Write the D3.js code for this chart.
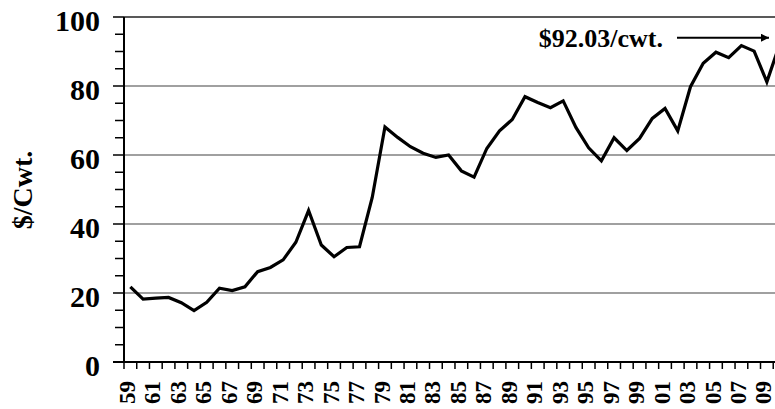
<!DOCTYPE html>
<html lang="en">
<head>
    <meta charset="UTF-8">
    <title>$/Cwt. by year</title>
    <script src="https://d3js.org/d3.v7.min.js"></script>
    <style>
        body { margin: 0; background: #fff; }
        svg { display: block; }
        text {
            font-family: "Liberation Serif", "Times New Roman", serif;
            font-weight: bold;
            fill: #000;
        }
        .grid { stroke: #808080; stroke-width: 1.5px; }
        .axis-line { stroke: #000; stroke-width: 2px; }
        .tick-mark { stroke: #000; stroke-width: 1.5px; }
        .price { fill: none; stroke: #000; stroke-width: 3.2px; stroke-linejoin: miter; }
    </style>
</head>
<body>
    <script>
        // Data (1959-2010)
        const years = d3.range(1959, 2011);
        const prices = [
            21.8, 18.2, 18.5, 18.7, 17.2, 14.9, 17.3, 21.4, 20.7, 21.8,
            26.2, 27.4, 29.6, 34.7, 43.9, 33.9, 30.5, 33.2, 33.4, 47.7,
            68.1, 65.1, 62.4, 60.5, 59.3, 60.0, 55.4, 53.6, 61.9, 67.0,
            70.3, 76.9, 75.2, 73.7, 75.7, 68.0, 62.1, 58.3, 65.0, 61.3,
            64.8, 70.6, 73.5, 67.0, 79.8, 86.6, 89.8, 88.2, 91.7, 90.1,
            81.2, 92.03
        ];
        const yTicks = [0, 20, 40, 60, 80, 100];
        const yMinorTicks = d3.range(0, 101, 5);
        const xLabelYears = years.filter(y => y % 2 === 1);
        const yTitle = "$/Cwt.";
        const note = "$92.03/cwt.";

        const width = 775;
        const height = 409;
        const plotLeft = 124, plotTop = 17, plotBottom = 362;
        const band = 12.73;

        const svg = d3.select("body")
            .append("svg")
            .attr("width", width)
            .attr("height", height);

        // chart runs a bit past the right edge of the picture, as in the original
        const x = d3.scaleBand()
            .domain(years)
            .range([plotLeft, plotLeft + band * years.length])
            .padding(0);

        const y = d3.scaleLinear()
            .domain([0, 100])
            .range([plotBottom, plotTop]);

        const xRight = x.range()[1];

        // horizontal gridlines
        svg.append("g")
            .selectAll("line")
            .data(yTicks.filter(d => d > 0))
            .enter()
            .append("line")
            .attr("class", "grid")
            .attr("x1", plotLeft)
            .attr("x2", xRight)
            .attr("y1", d => y(d))
            .attr("y2", d => y(d))
            .style("stroke", d => d === 100 ? "#222" : null);

        // y axis ticks (outward) and labels
        svg.append("g")
            .selectAll("line")
            .data(yMinorTicks)
            .enter()
            .append("line")
            .attr("class", "tick-mark")
            .attr("x1", d => d % 20 === 0 ? plotLeft - 11 : plotLeft - 9)
            .attr("x2", plotLeft)
            .attr("y1", d => y(d))
            .attr("y2", d => y(d));

        svg.append("g")
            .selectAll("text")
            .data(yTicks)
            .enter()
            .append("text")
            .attr("x", 100)
            .attr("y", d => y(d))
            .attr("dy", "0.45em")
            .attr("text-anchor", "end")
            .style("font-size", "30px")
            .text(d => d);

        // x axis ticks at band edges
        const edges = years.map(d => x(d)).concat([xRight]);
        svg.append("g")
            .selectAll("line")
            .data(edges)
            .enter()
            .append("line")
            .attr("class", "tick-mark")
            .attr("x1", d => d)
            .attr("x2", d => d)
            .attr("y1", plotBottom)
            .attr("y2", plotBottom + 7);

        // x labels, rotated
        svg.append("g")
            .selectAll("text")
            .data(xLabelYears)
            .enter()
            .append("text")
            .attr("transform", d => `translate(${x(d) + x.bandwidth() / 2},381) rotate(-90)`)
            .attr("text-anchor", "end")
            .attr("dy", "0.2em")
            .style("font-size", "23px")
            .text(d => String(d).slice(2));

        // axis lines
        svg.append("line")
            .attr("class", "axis-line")
            .attr("x1", plotLeft).attr("x2", plotLeft)
            .attr("y1", plotTop).attr("y2", plotBottom);
        svg.append("line")
            .attr("class", "axis-line")
            .attr("x1", plotLeft - 11).attr("x2", xRight)
            .attr("y1", plotBottom).attr("y2", plotBottom);

        // price line
        const line = d3.line()
            .x((d, i) => x(years[i]) + x.bandwidth() / 2)
            .y(d => y(d));

        svg.append("path")
            .datum(prices)
            .attr("class", "price")
            .attr("d", line);

        // y axis title
        svg.append("text")
            .attr("transform", "translate(32,190) rotate(-90)")
            .attr("text-anchor", "middle")
            .style("font-size", "28px")
            .text(yTitle);

        // annotation with arrow
        svg.append("defs").append("marker")
            .attr("id", "arrow")
            .attr("viewBox", "0 0 10 10")
            .attr("refX", 10)
            .attr("refY", 5)
            .attr("markerWidth", 5)
            .attr("markerHeight", 4)
            .attr("markerUnits", "strokeWidth")
            .attr("orient", "auto")
            .append("path")
            .attr("d", "M0,0L10,5L0,10Z")
            .attr("fill", "#000");

        const noteY = y(94);
        svg.append("text")
            .attr("x", 663)
            .attr("y", noteY + 9)
            .attr("text-anchor", "end")
            .style("font-size", "26px")
            .text(note);

        svg.append("line")
            .attr("x1", 677)
            .attr("x2", 769)
            .attr("y1", noteY)
            .attr("y2", noteY)
            .attr("stroke", "#000")
            .attr("stroke-width", 2)
            .attr("marker-end", "url(#arrow)");
    </script>
</body>
</html>
